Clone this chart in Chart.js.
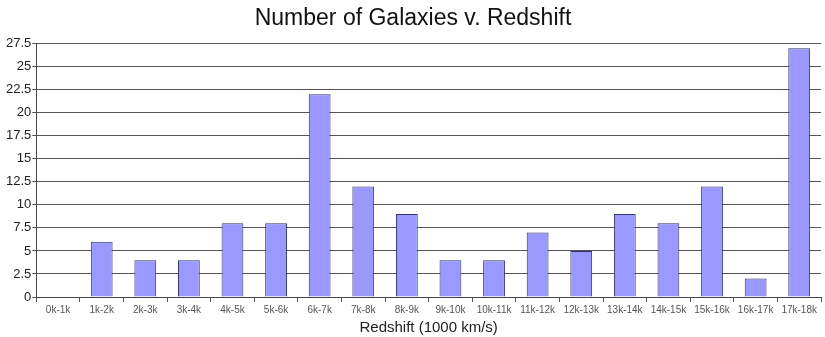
<!DOCTYPE html>
<html>
<head>
<meta charset="utf-8">
<script src="https://cdn.jsdelivr.net/npm/chart.js@4/dist/chart.umd.min.js"></script>
<style>
  html, body { margin: 0; padding: 0; background: #fff; }
  #wrap { width: 825px; height: 337px; }
</style>
</head>
<body>
<div id="wrap"><canvas id="galaxyChart" width="825" height="337"></canvas></div>
<script>
const categories = ['0k-1k', '1k-2k', '2k-3k', '3k-4k', '4k-5k', '5k-6k', '6k-7k', '7k-8k', '8k-9k',
  '9k-10k', '10k-11k', '11k-12k', '12k-13k', '13k-14k', '14k-15k', '15k-16k', '16k-17k', '17k-18k'];
const galaxyCounts = [0, 6, 4, 4, 8, 8, 22, 12, 9, 4, 4, 7, 5, 9, 8, 12, 2, 27];
const yMax = 27.5;
const yStep = 2.5;

const ctx = document.getElementById('galaxyChart').getContext('2d');

new Chart(ctx, {
  type: 'bar',
  data: {
    labels: categories,
    datasets: [{
      label: 'Galaxies',
      data: galaxyCounts,
      backgroundColor: '#9999ff',
      borderColor: '#333366',
      borderWidth: 1,
      barPercentage: 0.5,
      categoryPercentage: 1.0,
    }],
  },
  options: {
    responsive: false,
    animation: false,
    layout: { padding: { left: 5, right: 4, top: 0, bottom: 0 } },
    plugins: {
      legend: { display: false },
      tooltip: { enabled: false },
      title: {
        display: true,
        text: 'Number of Galaxies v. Redshift',
        color: '#111',
        font: { family: 'Liberation Sans', size: 23, weight: 'normal' },
        padding: { top: 5, bottom: 11 },
      },
    },
    scales: {
      x: {
        offset: true,
        grid: {
          offset: true,
          drawOnChartArea: false,
          drawTicks: true,
          tickLength: 5,
          color: '#555',
        },
        border: { display: true, color: '#444' },
        ticks: {
          color: '#555',
          font: { family: 'Liberation Sans', size: 10 },
          maxRotation: 0,
          autoSkip: false,
          padding: 2,
        },
        title: {
          display: true,
          text: 'Redshift (1000 km/s)',
          color: '#222',
          font: { family: 'Liberation Sans', size: 15 },
          padding: { top: 1, bottom: 0 },
        },
      },
      y: {
        min: 0,
        max: yMax,
        grid: { color: '#555', tickLength: 4 },
        border: { display: true, color: '#444' },
        ticks: {
          stepSize: yStep,
          color: '#222',
          font: { family: 'Liberation Sans', size: 13 },
          padding: 1,
        },
      },
    },
  },
});
</script>
</body>
</html>
